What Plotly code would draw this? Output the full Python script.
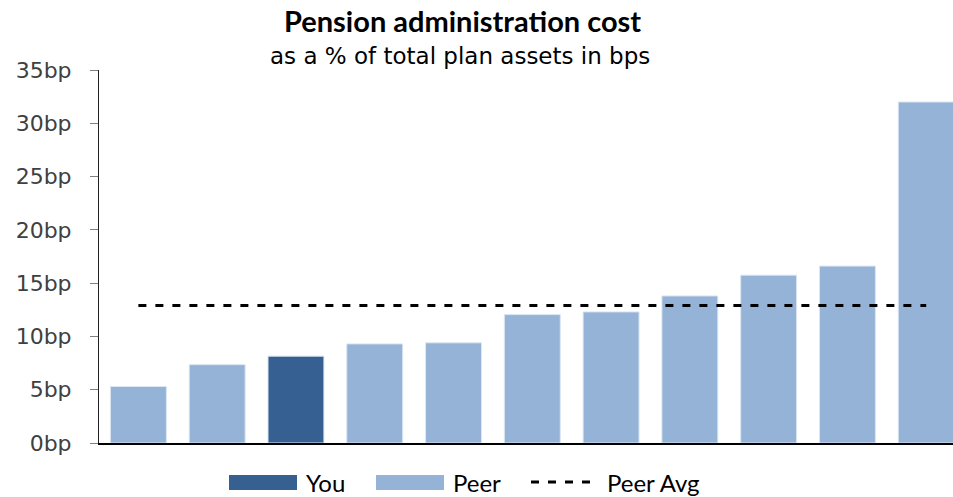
import plotly.graph_objects as go

categories = ["P1", "P2", "You", "P4", "P5", "P6", "P7", "P8", "P9", "P10", "P11"]
values = [5.3, 7.35, 8.15, 9.3, 9.4, 12.05, 12.3, 13.8, 15.75, 16.6, 32.0]
is_you = [False, False, True, False, False, False, False, False, False, False, False]
peer_avg = 12.9
y_ticks = [0, 5, 10, 15, 20, 25, 30, 35]
y_tick_labels = [f"{v}bp" for v in y_ticks]

YOU_COLOR = "#366092"
PEER_COLOR = "#95B3D7"

colors = [YOU_COLOR if y else PEER_COLOR for y in is_you]

fig = go.Figure()
fig.add_trace(go.Bar(
    x=list(range(len(categories))), y=values,
    marker=dict(color=colors, line=dict(color="#DCE6F2", width=1)),
    width=0.71, showlegend=False, hoverinfo="y",
))
fig.add_trace(go.Scatter(
    x=[0, len(categories) - 1], y=[peer_avg, peer_avg], mode="lines",
    line=dict(color="black", width=3, dash="8px,9px"), showlegend=False,
))

fig.update_layout(
    width=953, height=497,
    margin=dict(l=99, r=0, t=70, b=54),
    plot_bgcolor="white", paper_bgcolor="white",
    showlegend=False,
    xaxis=dict(range=[-0.5, 10.34], showticklabels=False, showgrid=False, zeroline=False,
               showline=True, linecolor="black", linewidth=2, ticks=""),
    yaxis=dict(range=[0, 35], tickvals=y_ticks, ticktext=y_tick_labels, showgrid=False,
               zeroline=False, showline=True, linecolor="#202020", linewidth=1,
               ticks="outside", ticklen=8, tickcolor="#808080",
               tickfont=dict(family="DejaVu Sans", size=22, color="#404040"),
               ticklabelstandoff=14),
)


def px_x(px):
    return (px - 99) / (953 - 99)


def px_y(py):
    return (443 - py) / (443 - 70)


fig.add_annotation(text="<b>Pension administration cost</b>", x=px_x(462), y=px_y(21), xref="paper", yref="paper",
                   xanchor="center", yanchor="middle", showarrow=False,
                   font=dict(family="Lato", size=29, color="black"))
fig.add_annotation(text="as a % of total plan assets in bps", x=px_x(460), y=px_y(56), xref="paper", yref="paper",
                   xanchor="center", yanchor="middle", showarrow=False,
                   font=dict(family="DejaVu Sans", size=23, color="black"))

# Custom legend
leg_y = 482
fig.add_shape(type="rect", xref="paper", yref="paper", x0=px_x(229), x1=px_x(297),
              y0=px_y(475), y1=px_y(490), fillcolor=YOU_COLOR, line=dict(width=0))
fig.add_annotation(text="You", x=px_x(304), y=px_y(leg_y), xref="paper", yref="paper",
                   xanchor="left", yanchor="middle", showarrow=False,
                   font=dict(family="Lato", size=24, color="black"))
fig.add_shape(type="rect", xref="paper", yref="paper", x0=px_x(376), x1=px_x(444),
              y0=px_y(475), y1=px_y(490), fillcolor=PEER_COLOR, line=dict(width=0))
fig.add_annotation(text="Peer", x=px_x(451), y=px_y(leg_y), xref="paper", yref="paper",
                   xanchor="left", yanchor="middle", showarrow=False,
                   font=dict(family="Lato", size=24, color="black"))
fig.add_shape(type="line", xref="paper", yref="paper", x0=px_x(531), x1=px_x(598),
              y0=px_y(leg_y), y1=px_y(leg_y), line=dict(color="black", width=3, dash="8px,9px"))
fig.add_annotation(text="Peer Avg", x=px_x(605), y=px_y(leg_y), xref="paper", yref="paper",
                   xanchor="left", yanchor="middle", showarrow=False,
                   font=dict(family="Lato", size=24, color="black"))

fig.write_html("out.html")
